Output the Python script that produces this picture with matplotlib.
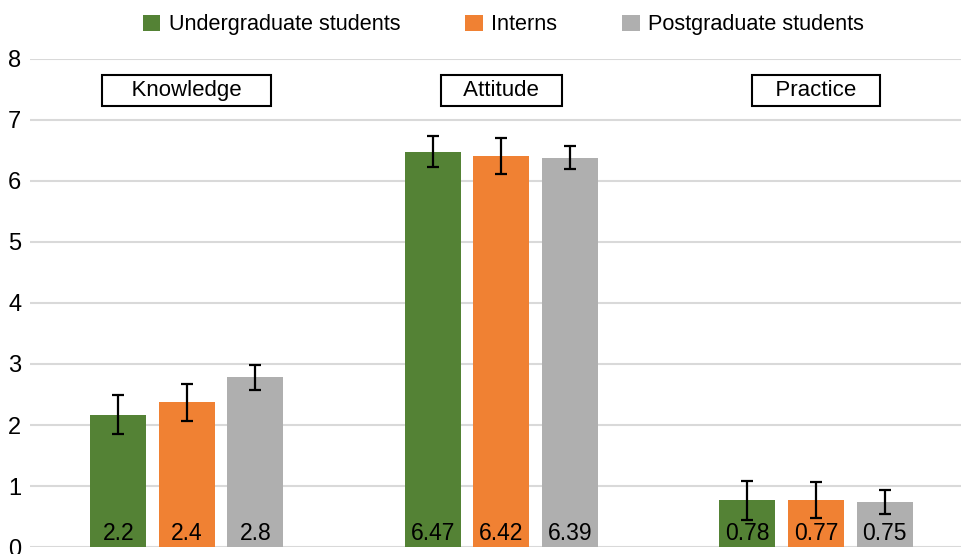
import numpy as np
import matplotlib
matplotlib.use('Agg')
import matplotlib.pyplot as plt

plt.rcParams['font.family'] = ['Liberation Sans Narrow', 'Liberation Sans', 'DejaVu Sans']

groups = ['Knowledge', 'Attitude', 'Practice']
series = ['Undergraduate students', 'Interns', 'Postgraduate students']
colors = ['#548235', '#F08133', '#AFAFAF']

means = [
    [2.17, 6.48, 0.77],   # undergraduate
    [2.37, 6.41, 0.77],   # interns
    [2.78, 6.38, 0.74],   # postgraduate
]
errors = [
    [0.32, 0.25, 0.32],
    [0.31, 0.30, 0.30],
    [0.20, 0.19, 0.20],
]
labels = [
    ['2.2', '6.47', '0.78'],
    ['2.4', '6.42', '0.77'],
    ['2.8', '6.39', '0.75'],
]

fig = plt.figure(figsize=(9.61, 5.54), dpi=100)
ax = fig.add_axes([0.031, 0.0126, 0.969, 0.881])

x = np.arange(len(groups))
width = 0.178
step = 0.218

for i, name in enumerate(series):
    pos = x + (i - 1) * step
    ax.bar(pos, means[i], width, color=colors[i], label=name, zorder=2)
    ax.errorbar(pos, means[i], yerr=errors[i], fmt='none', ecolor='black',
                elinewidth=1.6, capsize=4, capthick=1.6, zorder=3)
    for p, lab in zip(pos, labels[i]):
        ax.text(p, 0.04, lab, ha='center', va='bottom', fontsize=16.5, zorder=4)

pads = ['    ', '   ', '   ']
for g, name in enumerate(groups):
    ax.text(x[g], 7.48, pads[g] + name + pads[g], ha='center', va='center', fontsize=16,
            bbox=dict(boxstyle='square,pad=0.22', facecolor='white', edgecolor='black', linewidth=1.5))

ax.set_xlim(-0.499, 2.461)
ax.set_ylim(0, 8)
ax.set_yticks(range(0, 9))
ax.tick_params(axis='y', length=0, labelsize=17, pad=6)
ax.set_xticks([])
ax.grid(axis='y', color='#D9D9D9', linewidth=1.5, zorder=0)
ax.set_axisbelow(True)
for s in ax.spines.values():
    s.set_visible(False)

fig.legend(loc='center', bbox_to_anchor=(0.524, 0.955), ncol=3, frameon=False,
           fontsize=15.6, handlelength=0.8, handleheight=0.8, columnspacing=3.0,
           handletextpad=0.4)

fig.savefig('out.png', dpi=100)
